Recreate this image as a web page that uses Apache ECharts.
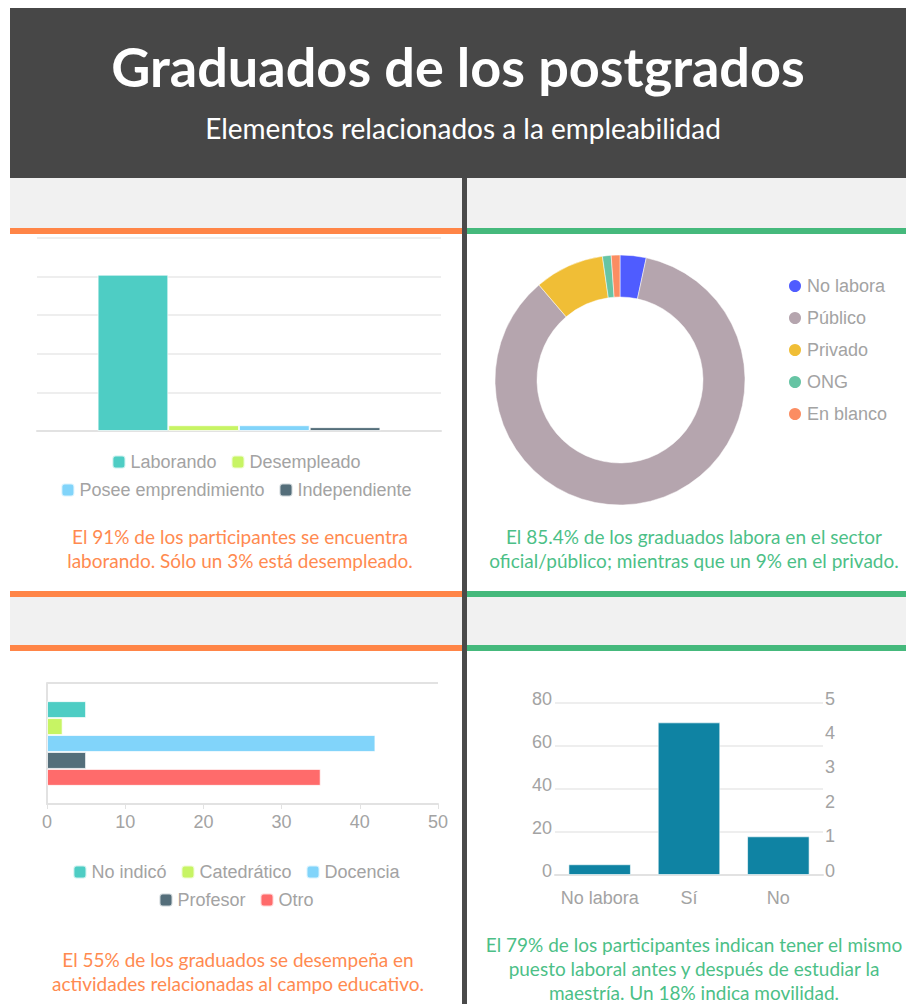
<!DOCTYPE html>
<html>
<head>
<meta charset="utf-8">
<title>Graduados de los postgrados</title>
<script src="https://cdn.jsdelivr.net/npm/echarts@6/dist/echarts.min.js"></script>
<style>
body { margin:0; width:906px; height:1004px; position:relative; background:#fff; overflow:hidden; font-family:Lato, "Open Sans", sans-serif; }
.abs { position:absolute; }
#header { left:10px; top:8px; width:896px; height:170px; background:#474747; color:#fff; text-align:center; }
#header h1 { position:absolute; left:0; right:0; top:27px; margin:0; font-size:54px; line-height:64px; font-weight:700; }
#header h2 { position:absolute; left:10px; right:0; top:103px; margin:0; font-size:28px; line-height:34px; font-weight:400; }
.gray { background:#f1f1f1; }
.orange { background:#ff8547; }
.green { background:#45b97c; }
.left { left:10px; width:452px; }
.right { left:467px; width:439px; }
#divider { left:462px; width:5px; top:178px; height:826px; background:#4a4a4a; }
.cap { position:absolute; text-align:center; font-size:19px; line-height:24px; }
.cap.o { color:#ff8a50; }
.cap.g { color:#4cbf87; }
.chart { position:absolute; }
</style>
</head>
<body>
<div id="header" class="abs">
  <h1>Graduados de los postgrados</h1>
  <h2>Elementos relacionados a la empleabilidad</h2>
</div>

<div class="abs gray left" style="top:178px;height:50px"></div>
<div class="abs orange left" style="top:228px;height:6px"></div>
<div class="abs gray right" style="top:178px;height:50px"></div>
<div class="abs green right" style="top:228px;height:6px"></div>

<div class="abs orange left" style="top:591px;height:6px"></div>
<div class="abs gray left" style="top:597px;height:48px"></div>
<div class="abs orange left" style="top:645px;height:6px"></div>
<div class="abs green right" style="top:591px;height:6px"></div>
<div class="abs gray right" style="top:597px;height:48px"></div>
<div class="abs green right" style="top:645px;height:6px"></div>

<div id="divider" class="abs"></div>

<div id="c1" class="chart" style="left:10px;top:234px;width:452px;height:280px"></div>
<div id="c2" class="chart" style="left:467px;top:234px;width:439px;height:280px"></div>
<div id="c3" class="chart" style="left:10px;top:651px;width:452px;height:260px"></div>
<div id="c4" class="chart" style="left:467px;top:651px;width:439px;height:270px"></div>

<div class="cap o" style="left:10px;width:460px;top:525px">El 91% de los participantes se encuentra<br>laborando. Sólo un 3% está desempleado.</div>
<div class="cap g" style="left:467px;width:454px;top:525px">El 85.4% de los graduados labora en el sector<br>oficial/público; mientras que un 9% en el privado.</div>
<div class="cap o" style="left:10px;width:456px;top:948px">El 55% de los graduados se desempeña en<br>actividades relacionadas al campo educativo.</div>
<div class="cap g" style="left:467px;width:454px;top:933px">El 79% de los participantes indican tener el mismo<br>puesto laboral antes y después de estudiar la<br>maestría. Un 18% indica movilidad.</div>

<script>
// situacion laboral
var empleoCats = ['Laborando', 'Desempleado', 'Posee emprendimiento', 'Independiente'];
var empleoValues = [81, 3, 3, 2];
// sector
var sectorCats = ['No labora', 'Público', 'Privado', 'ONG', 'En blanco'];
var sectorValues = [3, 76, 8, 1, 1];
// campo de trabajo
var campoCats = ['No indicó', 'Catedrático', 'Docencia', 'Profesor', 'Otro'];
var campoValues = [5, 2, 42, 5, 35];
// mismo puesto
var puestoCats = ['No labora', 'Sí', 'No'];
var puestoValues = [5, 71, 18];

var barColors = ['#4ecdc4', '#c7f464', '#81d4fa', '#546e7a', '#ff6b6b'];
var pieColors = ['#4f5cff', '#b5a5ae', '#f0be36', '#66c4a4', '#fb8d62'];
var gray = '#a3a3a3';
var lineGray = '#e2e2e2';
var font = 'Liberation Sans';

function legendBase(data, top) {
    return {
        data: data,
        top: top,
        left: 'center',
        icon: 'roundRect',
        itemWidth: 13,
        itemHeight: 13,
        itemGap: 14,
        textStyle: {fontSize: 18, color: gray, fontFamily: font}
    };
}

function barSeries(names, values) {
    return names.map(function (n, i) {
        return {
            type: 'bar',
            name: n,
            data: [values[i]],
            barGap: '0%',
            barCategoryGap: '30%',
            itemStyle: {color: barColors[i], borderColor: 'rgba(255,255,255,0.7)', borderWidth: 1}
        };
    });
}

var c1 = echarts.init(document.getElementById('c1'), null, {renderer: 'svg'});
c1.setOption({
    animation: false,
    textStyle: {fontFamily: font},
    grid: {left: 27, right: 21, top: 4, bottom: 83, outerBoundsMode: 'none'},
    legend: [legendBase(empleoCats.slice(0, 2), 214), legendBase(empleoCats.slice(2), 242)],
    xAxis: {
        type: 'category',
        data: [''],
        axisLine: {lineStyle: {color: lineGray, width: 2}},
        axisTick: {alignWithLabel: true, length: 8, lineStyle: {color: lineGray}},
        axisLabel: {show: false}
    },
    yAxis: {
        type: 'value', min: 0, max: 100, interval: 20,
        axisLabel: {show: false},
        axisLine: {show: false},
        splitLine: {lineStyle: {color: '#e8e8e8', width: 1.5}}
    },
    series: barSeries(empleoCats, empleoValues)
});

var c2 = echarts.init(document.getElementById('c2'), null, {renderer: 'svg'});
c2.setOption({
    animation: false,
    textStyle: {fontFamily: font},
    color: pieColors,
    legend: {
        orient: 'vertical',
        left: 315,
        top: 38,
        icon: 'circle',
        itemWidth: 14,
        itemHeight: 14,
        itemGap: 14,
        data: sectorCats,
        textStyle: {fontSize: 18, color: gray, fontFamily: font}
    },
    series: [{
        type: 'pie',
        center: [153, 146],
        radius: [83, 125],
        startAngle: 90,
        label: {show: false},
        labelLine: {show: false},
        itemStyle: {borderColor: '#fff', borderWidth: 0.5},
        data: sectorCats.map(function (n, i) { return {name: n, value: sectorValues[i]}; })
    }]
});

var c3 = echarts.init(document.getElementById('c3'), null, {renderer: 'svg'});
c3.setOption({
    animation: false,
    textStyle: {fontFamily: font},
    grid: {left: 37, right: 24, top: 32, bottom: 107, outerBoundsMode: 'none'},
    legend: [legendBase(campoCats.slice(0, 3), 207), legendBase(campoCats.slice(3), 235)],
    xAxis: {
        type: 'value', min: 0, max: 50, interval: 10,
        axisLine: {show: true, lineStyle: {color: lineGray, width: 2}},
        axisTick: {show: true, length: 5, lineStyle: {color: lineGray}},
        splitLine: {show: false},
        axisLabel: {fontSize: 18, color: gray, margin: 9}
    },
    yAxis: {
        type: 'category',
        data: [''],
        inverse: true,
        axisLine: {show: true, lineStyle: {color: lineGray, width: 2}},
        axisTick: {show: false},
        axisLabel: {show: false},
        splitLine: {show: true, lineStyle: {color: lineGray, width: 2}}
    },
    series: barSeries(campoCats, campoValues)
});

var c4 = echarts.init(document.getElementById('c4'), null, {renderer: 'svg'});
c4.setOption({
    animation: false,
    textStyle: {fontFamily: font},
    grid: {left: 88, right: 83, top: 52, bottom: 46, outerBoundsMode: 'none'},
    xAxis: {
        type: 'category',
        data: puestoCats,
        axisLine: {lineStyle: {color: lineGray, width: 2}},
        axisTick: {alignWithLabel: true, length: 4, lineStyle: {color: lineGray}},
        axisLabel: {fontSize: 18, color: gray, margin: 14, interval: 0}
    },
    yAxis: [{
        type: 'value', min: 0, max: 80, interval: 20,
        axisLabel: {fontSize: 18, color: gray, margin: 3, verticalAlign: 'bottom', lineHeight: 9},
        splitLine: {lineStyle: {color: '#e8e8e8', width: 1.5}}
    }, {
        type: 'value', min: 0, max: 5, interval: 1, position: 'right',
        axisLabel: {fontSize: 18, color: gray, margin: 2, verticalAlign: 'bottom', lineHeight: 9},
        splitLine: {show: false}
    }],
    series: [{
        type: 'bar',
        name: 'Mismo puesto',
        data: puestoValues,
        barCategoryGap: '30%',
        itemStyle: {color: '#0f83a3', borderColor: 'rgba(255,255,255,0.6)', borderWidth: 1}
    }]
});
</script>
</body>
</html>
